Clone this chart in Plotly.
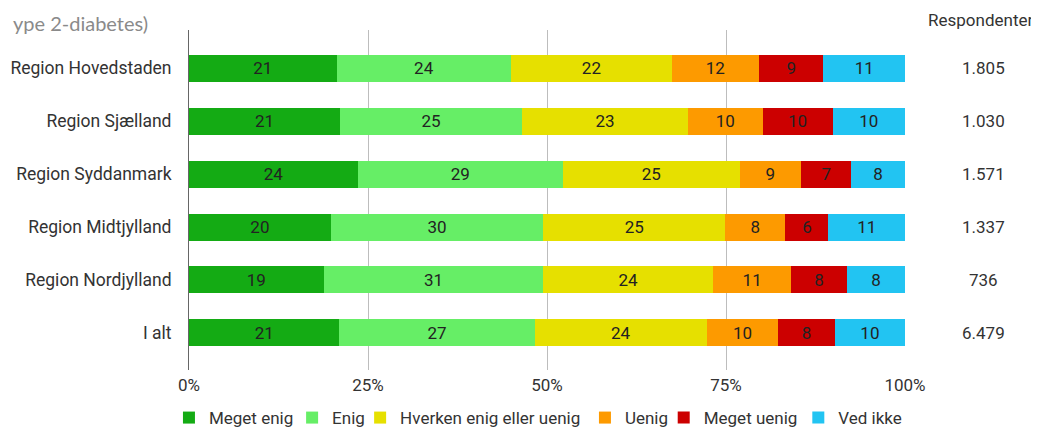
import plotly.graph_objects as go

categories = ["Region Hovedstaden", "Region Sjælland", "Region Syddanmark",
              "Region Midtjylland", "Region Nordjylland", "I alt"]
series_names = ["Meget enig", "Enig", "Hverken enig eller uenig", "Uenig", "Meget uenig", "Ved ikke"]
meget_enig = [20.6, 21.1, 23.6, 19.8, 18.8, 21.0]
enig = [24.4, 25.4, 28.6, 29.7, 30.7, 27.3]
hverken = [22.4, 23.2, 24.7, 25.4, 23.7, 24.0]
uenig = [12.2, 10.4, 8.6, 8.4, 10.9, 10.0]
meget_uenig = [9.0, 9.8, 7.0, 6.0, 7.8, 7.9]
ved_ikke = [11.4, 10.1, 7.5, 10.7, 8.1, 9.8]
respondenter = ["1.805", "1.030", "1.571", "1.337", "736", "6.479"]
tick_vals = [0, 25, 50, 75, 100]
tick_labels = ["0%", "25%", "50%", "75%", "100%"]

colors = ["#14ab14", "#66ee66", "#e6e000", "#fd9a00", "#cc0000", "#22c4f2"]
values = [meget_enig, enig, hverken, uenig, meget_uenig, ved_ikke]
legend_x = [-0.028, 0.144, 0.239, 0.553, 0.663, 0.851]

FONT = "Roboto, Arial, sans-serif"
FS = 17

fig = go.Figure()
for i, (name, vals, col) in enumerate(zip(series_names, values, colors)):
    fig.add_trace(go.Bar(
        y=categories, x=vals, name=name, orientation="h",
        marker=dict(color=col, line=dict(width=0)),
        text=vals, texttemplate="%{x:.0f}", textposition="inside",
        insidetextanchor="middle",
        textfont=dict(family=FONT, size=FS, color="#222222"),
        hoverinfo="skip",
        legend="legend" if i == 0 else f"legend{i + 1}",
    ))

annotations = [dict(text="Respondenter", x=1.106, y=1.029, xref="paper", yref="paper",
                    showarrow=False, xanchor="center", yanchor="middle",
                    font=dict(family=FONT, size=FS, color="#333333"))]
for cat, r in zip(categories, respondenter):
    annotations.append(dict(text=r, x=1.109, y=cat, xref="paper", yref="y",
                            showarrow=False, xanchor="center", yanchor="middle",
                            font=dict(family=FONT, size=FS, color="#333333")))
annotations.append(dict(text="ype 2-diabetes)", x=0, y=1, xref="paper", yref="paper",
                        xshift=-178, yshift=21, showarrow=False, xanchor="left", yanchor="top",
                        font=dict(family="Lato, sans-serif", size=20, color="#8a8a8a")))

legends = {}
for i, lx in enumerate(legend_x):
    key = "legend" if i == 0 else f"legend{i + 1}"
    legends[key] = dict(orientation="h", x=lx, xanchor="left",
                        yref="container", y=0.042, yanchor="middle",
                        font=dict(family=FONT, size=FS, color="#333333"),
                        bgcolor="rgba(0,0,0,0)", borderwidth=0)

fig.update_layout(
    width=1039, height=428,
    barmode="stack", bargap=0.49,
    paper_bgcolor="white", plot_bgcolor="white",
    margin=dict(l=181, r=142, t=22, b=66, autoexpand=False),
    font=dict(family=FONT, size=FS, color="#333333"),
    xaxis=dict(range=[0, 100], tickvals=tick_vals, ticktext=tick_labels,
               showgrid=True, gridcolor="#bdbdbd", gridwidth=1, zeroline=False,
               showline=False, ticks="", tickfont=dict(size=FS, color="#333333"),
               ticklabelstandoff=3, automargin=False, fixedrange=True),
    yaxis=dict(range=[5.70, -0.72], showgrid=False, showline=True, linecolor="#666666",
               linewidth=1, ticks="", ticklabelstandoff=13, automargin=False,
               tickfont=dict(size=17.5, color="#333333"), fixedrange=True),
    annotations=annotations,
    showlegend=True,
    **legends,
)

fig.write_html("out.html")
